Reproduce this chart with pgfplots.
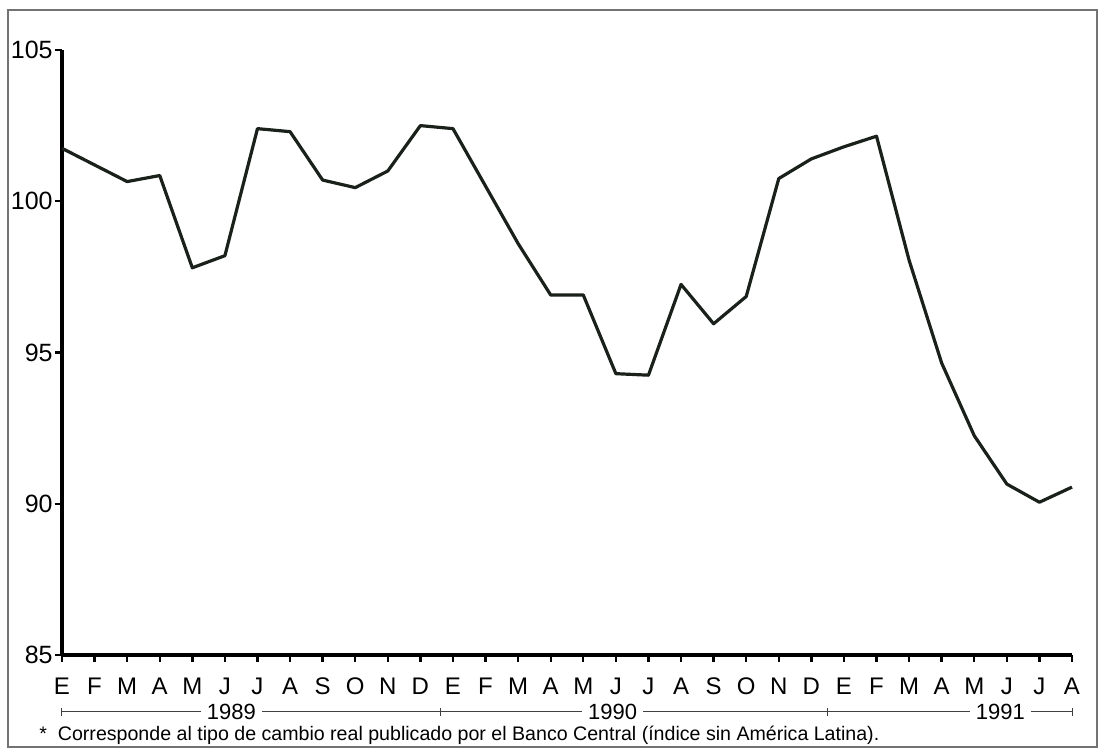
\documentclass[border=0pt]{standalone}
\usepackage{fontspec}
\setmainfont{Liberation Sans}
\usepackage{pgfplots}
\pgfplotsset{compat=1.18}
\definecolor{linec}{HTML}{1A211A}
\begin{document}
\begin{tikzpicture}
\useasboundingbox (-31pt,-47pt) rectangle (519pt,327.5pt);
\draw[line width=0.6pt, black!55] (-27pt,-46pt) rectangle (517.5pt,322.5pt);
\begin{axis}[
  at={(0pt,0pt)}, anchor=south west,
  scale only axis, width=505pt, height=302.5pt,
  xmin=0, xmax=31, ymin=85, ymax=105,
  axis x line*=bottom, axis y line*=left,
  axis line style={line width=1.6pt, -},
  tick align=outside,
  major tick length=3.5pt,
  tick style={line width=1.2pt, black},
  xtick={0,...,31},
  xticklabels={E,F,M,A,M,J,J,A,S,O,N,D,E,F,M,A,M,J,J,A,S,O,N,D,E,F,M,A,M,J,J,A},
  ytick={85,90,95,100,105},
  /pgf/number format/assume math mode=true,
  xticklabel style={font=\fontsize{12}{14}\selectfont, yshift=-4.5pt},
  yticklabel style={font=\fontsize{12.5}{14}\selectfont, inner xsep=1pt},
  clip=false,
]
\addplot[line width=1.6pt, linec, line join=round] coordinates {
(0,101.75) (1,101.2) (2,100.65) (3,100.85) (4,97.8) (5,98.2) (6,102.4) (7,102.3)
(8,100.7) (9,100.45) (10,101.0) (11,102.5) (12,102.4) (13,100.5) (14,98.6) (15,96.9)
(16,96.9) (17,94.3) (18,94.25) (19,97.25) (20,95.95) (21,96.85) (22,100.75) (23,101.4)
(24,101.8) (25,102.15) (26,98.05) (27,94.65) (28,92.25) (29,90.65) (30,90.05) (31,90.55)
};
% year bars
\draw[line width=0.5pt, black!75] ([yshift=-28.5pt]axis cs:0,85) -- ([yshift=-28.5pt]axis cs:31,85);
\draw[line width=0.5pt, black!75] ([yshift=-26.5pt]axis cs:0,85) -- ([yshift=-30.5pt]axis cs:0,85);
\draw[line width=0.5pt, black!75] ([yshift=-26.5pt]axis cs:11.63,85) -- ([yshift=-30.5pt]axis cs:11.63,85);
\draw[line width=0.5pt, black!75] ([yshift=-26.5pt]axis cs:23.5,85) -- ([yshift=-30.5pt]axis cs:23.5,85);
\draw[line width=0.5pt, black!75] ([yshift=-26.5pt]axis cs:31,85) -- ([yshift=-30.5pt]axis cs:31,85);
\node[fill=white, inner xsep=3pt, inner ysep=1pt, font=\fontsize{11}{13}\selectfont] at ([yshift=-28.5pt]axis cs:5.2,85) {1989};
\node[fill=white, inner xsep=3pt, inner ysep=1pt, font=\fontsize{11}{13}\selectfont] at ([yshift=-28.5pt]axis cs:16.9,85) {1990};
\node[fill=white, inner xsep=3pt, inner ysep=1pt, font=\fontsize{11}{13}\selectfont] at ([yshift=-28.5pt]axis cs:28.8,85) {1991};
\end{axis}
\node[anchor=base west, inner sep=0pt, font=\fontsize{9.8}{11}\selectfont] at (-11.5pt,-43pt) {*~~Corresponde al tipo de cambio real publicado por el Banco Central (índice sin América Latina).};
\end{tikzpicture}
\end{document}
